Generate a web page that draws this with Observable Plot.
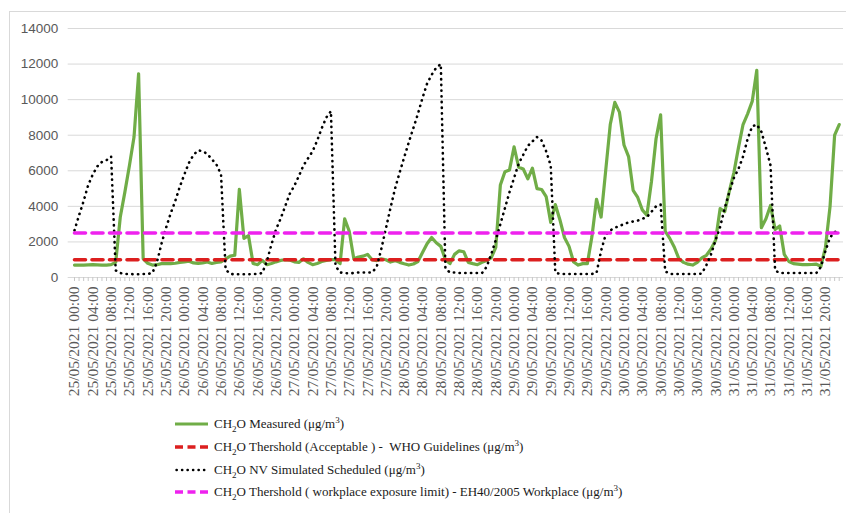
<!DOCTYPE html>
<html><head><meta charset="utf-8">
<script src="https://cdn.jsdelivr.net/npm/d3@7"></script>
<script src="https://cdn.jsdelivr.net/npm/@observablehq/plot@0.6"></script>
<style>
body{margin:0;background:#fff;}
#wrap{position:relative;width:846px;height:513px;overflow:hidden;}
#frame{position:absolute;left:9px;top:11px;width:860px;height:530px;border:1px solid #d9d9d9;box-sizing:border-box;}
#chart{position:absolute;left:0;top:0;}
#legend{position:absolute;left:175px;top:413px;font-family:"Liberation Serif",serif;font-size:13px;color:#1a1a1a;}
.item{height:22.7px;display:flex;align-items:center;white-space:pre;}
.item svg{margin-right:4px;}
sub,sup{font-size:9px;line-height:0;}
</style></head><body>
<div id="wrap"><div id="frame"></div><div id="chart"></div><div id="legend"></div></div>
<script>
// Hourly readings, 25/05/2021 00:00 to 31/05/2021 23:00
const startTime = "25/05/2021 00:00";
const measured = [
 700,700,700,710,720,710,700,700,720,850,3400,4800,6300,7900,11450,1050,800,700,720,780,780,780,800,850,
 880,920,820,790,820,870,790,850,880,1050,1200,1250,4950,2200,2350,790,720,960,720,790,880,960,1000,980,
 880,850,1050,850,720,790,900,960,1000,1000,780,3300,2600,1050,1150,1200,1300,1000,950,1050,1000,870,950,850,
 770,700,760,900,1400,1900,2250,1950,1750,1000,780,1300,1500,1450,850,780,720,850,950,1100,1700,5200,5950,6050,
 7350,6200,6100,5550,6150,5000,4950,4550,3100,4100,3250,2250,1750,870,700,780,780,2300,4400,3400,6000,8600,9850,9300,
 7450,6800,4900,4500,3800,3500,5400,7800,9150,2600,2200,1700,1050,850,750,700,850,1100,1250,1600,2100,3880,3700,4850,
 5900,7300,8600,9200,9900,11650,2800,3300,4050,2700,2900,1300,900,780,750,720,720,730,750,620,1700,4000,8000,8600
];
const simulated = [
 2650,3500,4300,5200,5800,6250,6500,6600,6800,400,250,200,200,180,180,200,200,250,850,1900,2800,3600,4300,5100,
 5800,6450,6900,7150,7100,6950,6650,6350,5800,450,200,180,180,180,180,200,200,250,900,1850,2700,3300,4000,4700,
 5150,5700,6300,6700,7100,7700,8400,9000,9350,650,280,250,230,250,280,280,280,280,600,1600,2750,3900,5000,5900,
 6750,7600,8400,9200,10100,10900,11400,11800,12000,500,280,280,250,250,250,250,250,250,600,1300,2100,3000,3900,4800,
 5600,6400,6900,7400,7650,7900,7700,7100,6300,280,200,200,200,200,200,200,200,200,250,1500,2400,2650,2800,2900,
 3000,3100,3150,3200,3300,3400,3700,4000,4100,350,200,200,200,200,200,200,200,220,700,1300,2100,2850,3900,4800,
 5600,6100,6800,7800,8500,8600,8200,7300,6300,400,250,250,250,250,250,250,250,250,250,600,1500,2250,2550,2700
];
const whoLimit = 1000;
const workplaceLimit = 2500;
const yTicks = [0,2000,4000,6000,8000,10000,12000,14000];
const tickLabels = [
 "25/05/2021 00:00","25/05/2021 04:00","25/05/2021 08:00","25/05/2021 12:00","25/05/2021 16:00","25/05/2021 20:00",
 "26/05/2021 00:00","26/05/2021 04:00","26/05/2021 08:00","26/05/2021 12:00","26/05/2021 16:00","26/05/2021 20:00",
 "27/05/2021 00:00","27/05/2021 04:00","27/05/2021 08:00","27/05/2021 12:00","27/05/2021 16:00","27/05/2021 20:00",
 "28/05/2021 00:00","28/05/2021 04:00","28/05/2021 08:00","28/05/2021 12:00","28/05/2021 16:00","28/05/2021 20:00",
 "29/05/2021 00:00","29/05/2021 04:00","29/05/2021 08:00","29/05/2021 12:00","29/05/2021 16:00","29/05/2021 20:00",
 "30/05/2021 00:00","30/05/2021 04:00","30/05/2021 08:00","30/05/2021 12:00","30/05/2021 16:00","30/05/2021 20:00",
 "31/05/2021 00:00","31/05/2021 04:00","31/05/2021 08:00","31/05/2021 12:00","31/05/2021 16:00","31/05/2021 20:00"
];
const seriesNames = [
 "CH<sub>2</sub>O Measured (μg/m<sup>3</sup>)",
 "CH<sub>2</sub>O Thershold (Acceptable ) -  WHO Guidelines (μg/m<sup>3</sup>)",
 "CH<sub>2</sub>O NV Simulated Scheduled (μg/m<sup>3</sup>)",
 "CH<sub>2</sub>O Thershold ( workplace exposure limit) - EH40/2005 Workplace (μg/m<sup>3</sup>)"
];

const parse = d3.utcParse("%d/%m/%Y %H:%M");
const fmt = d3.utcFormat("%d/%m/%Y %H:%M");
const H = 3600e3;
const t0 = parse(startTime).getTime();
const rows = measured.map((m, i) => ({t: new Date(t0 + i * H), measured: m, simulated: simulated[i]}));
const hourTicks = rows.map(r => r.t);
const labelDates = tickLabels.map(parse);
const labelSet = new Set(tickLabels);

const GREEN = "#70AD47", RED = "#DC1F1F", MAG = "#EE22EE";
const dotted = {stroke: "#000", strokeWidth: 2.6, strokeDasharray: "0.3 5.4", strokeLinecap: "round"};
const dashed = {strokeWidth: 3.6, strokeDasharray: "11 6.5"};

const chart = Plot.plot({
  width: 846, height: 410,
  marginLeft: 71.7, marginRight: 5, marginTop: 28, marginBottom: 133,
  x: {type: "utc", domain: [new Date(t0 - H / 2), new Date(t0 + (measured.length - 0.5) * H)]},
  y: {domain: [0, 14000]},
  style: {background: "transparent"},
  marks: [
    Plot.ruleY(yTicks, {stroke: "#d9d9d9", strokeWidth: 1, insetLeft: -4, insetRight: -2}),
    Plot.axisY(yTicks, {tickSize: 0, tickPadding: 14, fontSize: 13.5, fill: "#595959", fontFamily: "Liberation Sans, sans-serif", tickFormat: d3.format("d"), label: null}),
    Plot.axisX(hourTicks, {tickSize: 4, tickPadding: 0, stroke: "#c8c8c8", tickFormat: () => "", label: null}),
    Plot.axisX(labelDates, {tickSize: 0, tickPadding: 9, tickRotate: -90, fontSize: 15.5, fill: "#595959",
      fontFamily: "Liberation Serif, serif", tickFormat: d => { const s = fmt(d); return labelSet.has(s) ? s : ""; }, label: null}),
    Plot.lineY(rows, {x: "t", y: "measured", stroke: GREEN, strokeWidth: 3.2, strokeLinejoin: "round"}),
    Plot.lineY(rows, {x: "t", y: () => whoLimit, stroke: RED, ...dashed}),
    Plot.lineY(rows, {x: "t", y: "simulated", ...dotted}),
    Plot.lineY(rows, {x: "t", y: () => workplaceLimit, stroke: MAG, ...dashed})
  ]
});
document.getElementById("chart").appendChild(chart);

const samples = [
  `<line x1="0" x2="33" y1="6" y2="6" stroke="${GREEN}" stroke-width="3"/>`,
  `<line x1="0" x2="33" y1="6" y2="6" stroke="${RED}" stroke-width="3.6" stroke-dasharray="8 4.5"/>`,
  `<line x1="1.5" x2="33" y1="6" y2="6" stroke="#000" stroke-width="2.4" stroke-dasharray="0.3 5.2" stroke-linecap="round"/>`,
  `<line x1="0" x2="33" y1="6" y2="6" stroke="${MAG}" stroke-width="3.6" stroke-dasharray="8 4.5"/>`
];
const legend = document.getElementById("legend");
seriesNames.forEach((name, i) => {
  const div = document.createElement("div");
  div.className = "item";
  div.innerHTML = `<svg width="35" height="12">${samples[i]}</svg><span>${name}</span>`;
  legend.appendChild(div);
});
</script>
</body></html>
